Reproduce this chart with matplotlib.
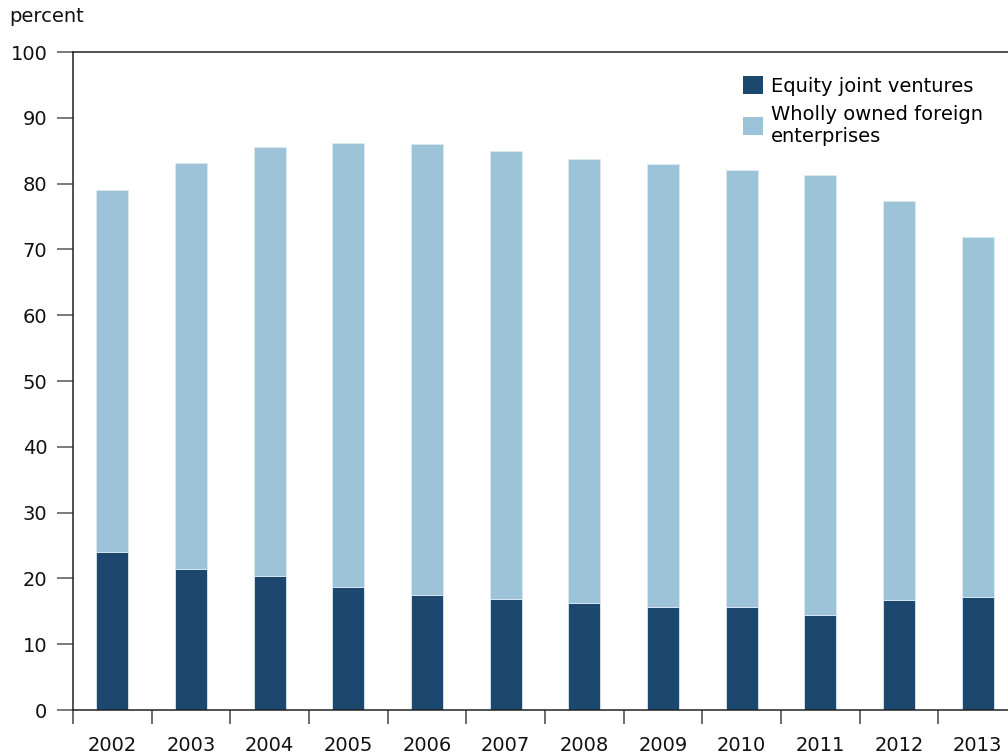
import numpy as np
import matplotlib
matplotlib.use('Agg')
import matplotlib.pyplot as plt
from matplotlib.patches import Patch

years = ['2002', '2003', '2004', '2005', '2006', '2007',
         '2008', '2009', '2010', '2011', '2012', '2013']
equity_jv = [24.0, 21.4, 20.4, 18.7, 17.5, 16.9, 16.3, 15.7, 15.7, 14.4, 16.7, 17.2]
wholly_owned = [55.0, 61.8, 65.1, 67.5, 68.5, 68.1, 67.4, 67.3, 66.3, 66.9, 60.7, 54.7]

dark = '#1c4870'
light = '#9dc3d8'
fs = 14

plt.rcParams['font.family'] = ['DejaVu Sans']

fig = plt.figure(figsize=(10.08, 7.54), dpi=100)
# axes runs a little past the right edge, as in the original
ax = fig.add_axes([73/1008, 1-710/754, (1017-73)/1008, (710-52)/754])

x = np.arange(len(years))
bw = 0.41
ax.bar(x, equity_jv, bw, color=dark, edgecolor='#dce9f1', linewidth=0.6)
ax.bar(x, wholly_owned, bw, bottom=equity_jv, color=light, edgecolor='#dce9f1', linewidth=0.6)

ax.set_xlim(-0.5, len(years)-0.5)
ax.set_ylim(0, 100)

ax.spines['right'].set_visible(False)
for s in ['left', 'bottom', 'top']:
    ax.spines[s].set_linewidth(1.1)
    ax.spines[s].set_color('#222222')

ax.set_yticks(range(0, 101, 10))
ax.tick_params(axis='y', length=11.5, width=1.1, color='#555555', labelsize=fs, pad=7)

ax.set_xticks(x)
ax.set_xticklabels(years)
ax.set_xticks(np.arange(-0.5, len(years), 1), minor=True)
ax.tick_params(axis='x', which='major', length=0, labelsize=fs, pad=19)
ax.tick_params(axis='x', which='minor', length=10, width=1.1, color='#444444')
for lab in ax.get_xticklabels() + ax.get_yticklabels():
    lab.set_color('#111111')

fig.text(9/1008, 1-16/754, 'percent', fontsize=fs, va='center', ha='left', color='#111111')

handles = [Patch(facecolor=dark, edgecolor='none'), Patch(facecolor=light, edgecolor='none')]
ax.legend(handles, ['Equity joint ventures', 'Wholly owned foreign\nenterprises'],
          loc='upper left', bbox_to_anchor=(0.7015, 0.975), frameon=False,
          fontsize=fs, handlelength=1.05, handleheight=1.05, handletextpad=0.4,
          labelspacing=0.45, borderaxespad=0)

fig.savefig('out.png', dpi=100)
